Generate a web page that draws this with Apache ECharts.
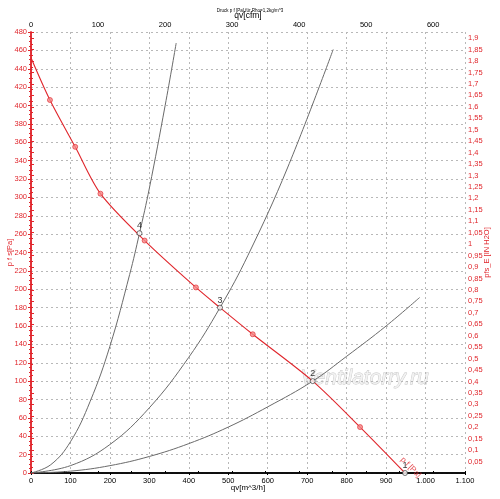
<!DOCTYPE html>
<html>
<head>
<meta charset="utf-8">
<script src="https://cdn.jsdelivr.net/npm/echarts@6/dist/echarts.min.js"></script>
<style>
  html, body { margin: 0; padding: 0; background: #fff; }
  #chart { width: 500px; height: 499px; }
</style>
</head>
<body>
<div id="chart"></div>
<script>
// fan curve p f [Pa] over qv [m^3/h]
const fanQ = [0, 48, 112, 176, 288, 418, 479, 562, 714, 834, 948];
const fanP = [452, 406, 355, 304, 253, 202, 180, 151, 100, 50, 0];
// red dots on the fan curve
const fanDotQ = [48, 112, 176, 288, 418, 562, 834];
const fanDotP = [406, 355, 304, 253, 202, 151, 50];

// system curves
const sys4Q = [0, 50, 100, 150, 200, 250, 275, 300, 340, 368];
const sys4P = [0, 9, 34, 78, 138, 216, 261, 310, 400, 468];
const sys3Q = [0, 100, 200, 300, 400, 479, 550, 650, 766];
const sys3P = [0, 8, 31, 71, 126, 180, 237, 332, 461];
const sys2Q = [0, 100, 200, 300, 400, 500, 600, 714, 800, 900, 985];
const sys2P = [0, 2, 8, 18, 32, 50, 72, 100, 127, 160, 191];

// operating points
const opQ = [948, 714, 479, 275];
const opP = [0, 100, 180, 261];
const opNames = ['1', '2', '3', '4'];

const M3H_PER_CFM = 1.699;
const PA_PER_INH2O = 249.089;
const RED = '#e0262c';

const pairs = (xs, ys) => xs.map((x, i) => [x, ys[i]]);

const fmtThousands = (v) => {
  if (v >= 1000) {
    return Math.floor(v / 1000) + '.' + String(v % 1000).padStart(3, '0');
  }
  return String(v);
};

const sysLine = (name, q, p) => ({
  name: name,
  type: 'line',
  data: pairs(q, p),
  smooth: 0.4,
  showSymbol: false,
  lineStyle: { color: '#6a6a6a', width: 1 },
  z: 3
});

const getOption = () => {
  return {
    animation: false,
    title: {
      text: 'Druck p f [Pa] für Rho=1,2kg/m^3',
      left: 'center',
      top: 3,
      textStyle: { fontSize: 4.5, fontWeight: 'normal', color: '#000' }
    },
    graphic: [
      {
        type: 'text',
        left: 300,
        top: 367,
        z: 0,
        style: {
          text: 'Ventilatorry.ru',
          font: 'italic 21px "Liberation Sans"',
          fill: '#f2f2f2',
          stroke: '#c4c4c4',
          lineWidth: 0.8
        }
      }
    ],
    grid: { left: 31, right: 35, top: 32, bottom: 26, containLabel: false, outerBoundsMode: 'none' },
    xAxis: [
      {
        type: 'value',
        position: 'bottom',
        min: 0,
        max: 1100,
        interval: 100,
        name: 'qv[m^3/h]',
        nameLocation: 'middle',
        nameGap: 11,
        nameMoveOverlap: false,
        nameTextStyle: { color: '#000', fontSize: 8, fontFamily: 'Liberation Sans' },
        axisLine: { lineStyle: { color: '#000', width: 1.5 } },
        axisTick: { show: true, length: 2, lineStyle: { color: '#000' } },
        axisLabel: { color: '#000', fontSize: 7.5, margin: 4, fontFamily: 'Liberation Sans', formatter: fmtThousands },
        splitLine: { show: true, lineStyle: { color: '#b8b8b8', type: [2, 3], width: 1 } }
      },
      {
        type: 'value',
        position: 'top',
        min: 0,
        max: 1100 / M3H_PER_CFM,
        interval: 100,
        name: 'qv[cfm]',
        nameLocation: 'middle',
        nameGap: 12,
        nameMoveOverlap: false,
        nameTextStyle: { color: '#000', fontSize: 8.5, fontFamily: 'Liberation Sans' },
        axisLine: { lineStyle: { color: '#000', width: 1.5 } },
        axisTick: { show: true, length: 2, lineStyle: { color: '#000' } },
        minorTick: { show: true, splitNumber: 2, length: 2, lineStyle: { color: '#000' } },
        axisLabel: { color: '#000', fontSize: 7.5, margin: 3, showMaxLabel: false, fontFamily: 'Liberation Sans' },
        splitLine: { show: false }
      }
    ],
    yAxis: [
      {
        type: 'value',
        position: 'left',
        min: 0,
        max: 480,
        interval: 20,
        name: 'p f s[Pa]',
        nameLocation: 'middle',
        nameRotate: 90,
        nameGap: 17,
        nameMoveOverlap: false,
        nameTextStyle: { color: RED, fontSize: 7.5, fontFamily: 'Liberation Sans' },
        axisLine: { show: true, lineStyle: { color: RED, width: 1.5 } },
        axisTick: { show: true, length: 3, lineStyle: { color: RED } },
        minorTick: { show: true, splitNumber: 4, length: 2, lineStyle: { color: RED } },
        axisLabel: { color: RED, fontSize: 7.5, margin: 4, fontFamily: 'Liberation Sans' },
        splitLine: { show: true, lineStyle: { color: '#b8b8b8', type: [2, 3], width: 1 } }
      },
      {
        type: 'value',
        position: 'right',
        min: 0,
        max: 480 / PA_PER_INH2O,
        interval: 0.05,
        name: 'pfs_E [IN H2O]',
        nameLocation: 'middle',
        nameRotate: 90,
        nameGap: 18,
        nameMoveOverlap: false,
        nameTextStyle: { color: RED, fontSize: 7.5, fontFamily: 'Liberation Sans' },
        axisLine: { show: true, lineStyle: { color: RED, width: 1.5 } },
        axisTick: { show: true, length: 3, lineStyle: { color: RED } },
        minorTick: { show: true, splitNumber: 2, length: 2, lineStyle: { color: RED } },
        axisLabel: {
          color: RED,
          fontSize: 7.5,
          margin: 3,
          showMaxLabel: false,
          fontFamily: 'Liberation Sans',
          formatter: (v) => (v === 0 ? '' : String(+v.toFixed(2)).replace('.', ','))
        },
        splitLine: { show: false }
      }
    ],
    series: [
      sysLine('Anlage 4', sys4Q, sys4P),
      sysLine('Anlage 3', sys3Q, sys3P),
      sysLine('Anlage 2', sys2Q, sys2P),
      {
        name: 'p f',
        type: 'line',
        data: pairs(fanQ, fanP),
        smooth: 0.3,
        showSymbol: false,
        lineStyle: { color: RED, width: 1.1 },
        z: 4
      },
      {
        name: 'p f dots',
        type: 'scatter',
        data: pairs(fanDotQ, fanDotP),
        symbol: 'circle',
        symbolSize: 5,
        itemStyle: { color: '#f58a8a', borderColor: RED, borderWidth: 0.8 },
        z: 5
      },
      {
        name: 'p f label',
        type: 'scatter',
        data: [[fanQ[fanQ.length - 1], fanP[fanP.length - 1]]],
        symbolSize: 0,
        silent: true,
        label: {
          show: true,
          formatter: 'p f [Pa]',
          position: 'inside',
          align: 'center',
          verticalAlign: 'middle',
          rotate: -45,
          offset: [0, -8],
          color: RED,
          fontSize: 8,
          fontFamily: 'Liberation Sans'
        },
        z: 6
      },
      {
        name: 'Betriebspunkte',
        type: 'scatter',
        data: opQ.map((q, i) => ({ value: [q, opP[i]], name: opNames[i] })),
        symbol: 'circle',
        symbolSize: 5,
        itemStyle: { color: '#fff', borderColor: '#222', borderWidth: 0.8 },
        label: {
          show: true,
          position: 'top',
          distance: 0,
          formatter: (p) => p.name,
          color: '#000',
          fontSize: 9,
          fontFamily: 'Liberation Sans'
        },
        z: 7
      }
    ]
  };
};

const initChart = () => {
  const chart = echarts.init(document.getElementById('chart'));
  chart.setOption(getOption());
};

window.addEventListener('load', () => {
  initChart();
});
</script>
</body>
</html>
